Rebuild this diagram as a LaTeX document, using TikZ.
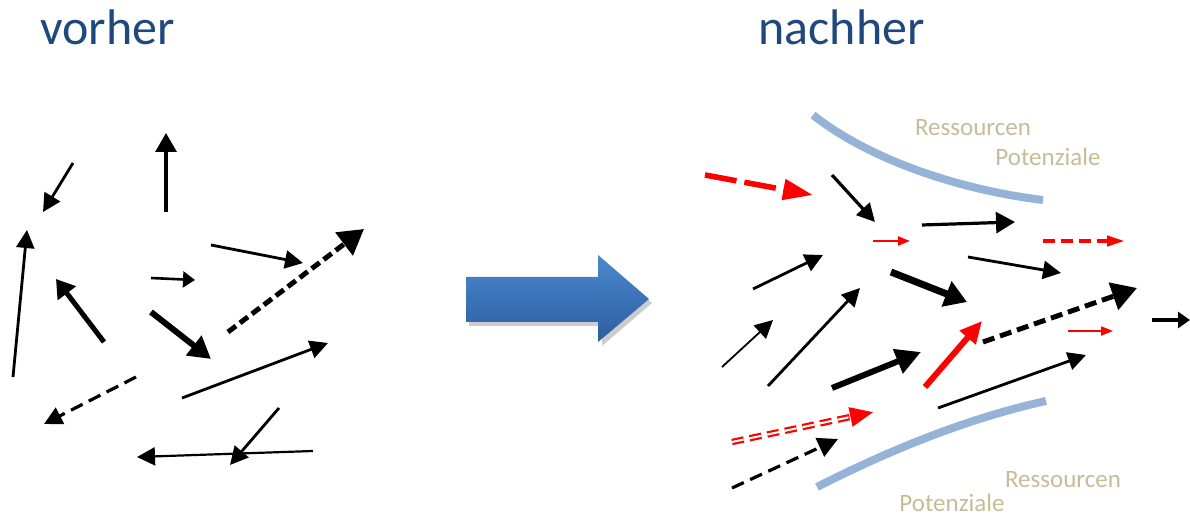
\documentclass[tikz,border=0pt]{standalone}
\usepackage{fontspec}
\setmainfont{Carlito}
\usepackage{tikz}
\usetikzlibrary{arrows.meta, calc}
\definecolor{titleblue}{RGB}{31, 73, 125}
\definecolor{bordblue}{RGB}{149, 179, 215}
\definecolor{restext}{RGB}{196, 189, 151}
\definecolor{bigtop}{RGB}{76, 136, 206}
\definecolor{bigbot}{RGB}{44, 94, 160}

\begin{document}
\begin{tikzpicture}[
			x=0.5pt, y=-0.5pt,
			title/.style={font=\fontsize{25}{30}\selectfont, text=titleblue, inner sep=0pt, anchor=base west},
			restxt/.style={font=\fontsize{12.5}{15}\selectfont, text=restext, inner sep=0pt},
			border/.style={line width=4pt, draw=bordblue},
			thinarr/.style={line width=1.4pt, -{Triangle[length=9pt, width=9pt]}},
			medarr/.style={line width=1.6pt, -{Triangle[length=9.5pt, width=10.5pt]}},
			thickarr/.style={line width=3pt, -{Triangle[length=11pt, width=12pt]}},
			dasharr/.style={line width=2.5pt, dash pattern=on 6pt off 3pt, -{Triangle[length=12.5pt, width=14pt]}},
			smallred/.style={red, line width=1.1pt, -{Triangle[length=6pt, width=4.5pt]}}
		]
		\useasboundingbox (0,0) rectangle (1190,517);

		% Titles
		\node[title] (vorher) at (40,45) {vorher};
		\node[title] (nachher) at (758,45) {nachher};

		% Big arrow in the middle
		\fill[black!20] (469,281) -- (602,281) -- (602,259) -- (652,303) -- (602,346) -- (602,326) -- (469,326) -- cycle;
		\shade[top color=bigtop, bottom color=bigbot] (466,277) -- (598,277) -- (598,255) -- (649,299) -- (598,342) -- (598,322) -- (466,322) -- cycle;

		% Before: arrows in all directions
		\draw[thinarr] (73,163) -- (43,212);
		\draw[medarr] (166,212) -- (166,133);
		\draw[thinarr] (13,377) -- (27,230);
		\draw[line width=2.5pt, -{Triangle[length=9pt, width=11pt]}] (104,342) -- (56,279);
		\draw[line width=1.3pt, -{Triangle[length=6pt, width=8pt]}] (151,278) -- (195,280);
		\draw[thinarr] (211,245) -- (303,263);
		\draw[dasharr, dash pattern=on 5pt off 2.5pt] (228,332) -- (364,229);
		\draw[thickarr] (151,312) -- (211,359);
		\draw[thinarr] (182,398) -- (328,343);
		\draw[line width=1.6pt, dash pattern=on 6.5pt off 3.5pt, -{Triangle[length=9pt, width=9pt]}] (136,377) -- (44,424);
		\draw[thinarr] (279,408) -- (230,465);
		\draw[line width=1.1pt, -{Triangle[length=9pt, width=9pt]}] (313,451) -- (137,457);

		% After: resource borders
		\draw[border] (813,115) .. controls (870,160) and (960,190) .. (1043,200);
		\draw[border] (817,487) .. controls (880,455) and (960,420) .. (1046,401);
		\node[restxt] (res1) at (973,128) {Ressourcen};
		\node[restxt] (pot1) at (1048,157) {Potenziale};
		\node[restxt] (res2) at (1063,480) {Ressourcen};
		\node[restxt] (pot2) at (952,503) {Potenziale};

		% After: arrows aligned to the right
		\draw[red, line width=2.8pt, dash pattern=on 16pt off 4pt, -{Triangle[length=15pt, width=10pt]}] (705,175) -- (813,195);
		\draw[thinarr, line width=1.6pt] (832,175) -- (875,222);
		\draw[smallred] (873,241) -- (910,241);
		\draw[medarr] (922,225) -- (1015,222);
		\draw[red, line width=2pt, dash pattern=on 6pt off 3pt, -{Triangle[length=9pt, width=5pt]}] (1043,241) -- (1125,241);
		\draw[thinarr] (968,257) -- (1061,273);
		\draw[thinarr] (753,289) -- (823,255);
		\draw[thickarr, line width=3.5pt, -{Triangle[length=11pt, width=13pt]}] (891,272) -- (967,302);
		\draw[dasharr] (983,342) -- (1137,288);
		\draw[line width=1.6pt, -{Triangle[length=6pt, width=8pt]}] (1152,320) -- (1190,320);
		\draw[thinarr] (768,386) -- (860,288);
		\draw[line width=0.9pt, -{Triangle[length=9pt, width=9pt]}] (722,367) -- (773,320);
		\draw[thickarr, -{Triangle[length=12.5pt, width=12.5pt]}] (832,388) -- (921,352);
		\draw[red, line width=3pt, -{Triangle[length=11pt, width=10pt]}] (925,387) -- (982,321);
		\draw[smallred] (1068,331) -- (1113,331);
		\draw[thinarr] (938,408) -- (1086,355);
		\coordinate (dblstart) at (732,442);
		\coordinate (dblend) at (874,412);
		\draw[red, line width=3.2pt, dash pattern=on 6pt off 3pt, -{Triangle[length=12pt, width=9pt]}] (dblstart) -- (dblend);
		\draw[white, line width=1pt, dash pattern=on 6pt off 3pt] (dblstart) -- ($(dblstart)!0.82!(dblend)$);
		\draw[line width=1.6pt, dash pattern=on 6.5pt off 3.5pt, -{Triangle[length=10pt, width=10pt]}] (732,488) -- (838,439);
		\end{tikzpicture}
\end{document}
